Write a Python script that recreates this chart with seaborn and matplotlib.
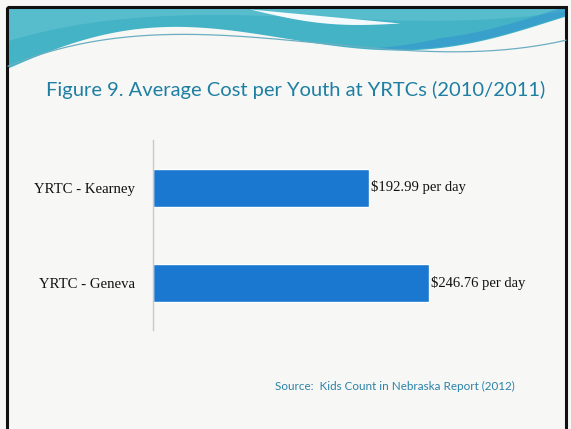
import matplotlib
matplotlib.use('Agg')
import numpy as np
import pandas as pd
import matplotlib.pyplot as plt
from matplotlib.patches import Rectangle
import seaborn as sns

# datos
centros = ['YRTC - Kearney', 'YRTC - Geneva']
costo_diario = [192.99, 246.76]
etiquetas = ['$192.99 per day', '$246.76 per day']
titulo = 'Figure 9. Average Cost per Youth at YRTCs (2010/2011)'
fuente = 'Source:  Kids Count in Nebraska Report (2012)'

df = pd.DataFrame({'centro': centros, 'costo': costo_diario})

sns.set_theme(style="white")
plt.rcParams['font.family'] = ['Liberation Serif', 'DejaVu Serif']

fondo = '#f7f7f5'
fig = plt.figure(figsize=(5.71, 4.29), dpi=100)
fig.patch.set_facecolor(fondo)

# --- decoracion superior (onda) ---
deco = fig.add_axes([0, 0, 1, 1])
deco.set_xlim(0, 571)
deco.set_ylim(429, 0)
deco.axis('off')
xs = np.linspace(8, 566, 400)
px = [8, 80, 150, 250, 380, 450, 566]
py = [68, 40, 28, 32, 50, 46, 16]
borde = np.polyval(np.polyfit(px, py, 5), xs)
deco.fill_between(xs, 8, borde, color='#45b3c6', lw=0)
# tonos superiores
sup = np.polyval(np.polyfit([8, 150, 300, 450, 566], [40, 18, 14, 22, 10], 3), xs)
deco.fill_between(xs, 8, sup, color='#5cc0cf', lw=0, alpha=0.8)
grosor = 9 * np.clip((xs - 370) / 70, 0, 1)
deco.fill_between(xs, borde - 1 - grosor, borde - 1, color='#2f92cf', lw=0, alpha=0.55)
# linea fina bajo la onda
linea = np.polyval(np.polyfit([8, 150, 300, 420, 566], [66, 36, 40, 52, 40], 3), xs)
deco.plot(xs, linea, color='#6aaec2', lw=0.9)
# franja blanca
xb = np.linspace(250, 400, 100)
t = (xb - 250) / 150
arriba = 9 + 14 * t
deco.fill_between(xb, arriba, arriba + 7 * np.sin(np.pi * t), color='white', lw=0, alpha=0.95)
deco.add_patch(Rectangle((7, 7), 559, 430, fill=False, ec='#111111', lw=2.2))

fig.text(0.517, 0.79, titulo, ha='center', va='center', fontsize=14.5,
         color='#1f7fa3', family=['Lato', 'DejaVu Sans'])
fig.text(0.482, 0.098, fuente, ha='left', va='center', fontsize=8.4,
         color='#2a82a8', family=['Lato', 'DejaVu Sans'])

# --- grafico de barras ---
ax = fig.add_axes([153 / 571, 1 - 330 / 429, (566 - 153) / 571, 190 / 429])
ax.patch.set_alpha(0)
sns.barplot(data=df, x='costo', y='centro', orient='h', color='#1a78d0',
            width=0.4, saturation=1, ax=ax)
ax.set_xlim(0, 369)
ax.set_ylim(1.5, -0.5)
ax.set_xlabel('')
ax.set_ylabel('')
ax.set_xticks([])
for lado in ['top', 'right', 'bottom']:
    ax.spines[lado].set_visible(False)
ax.spines['left'].set_color('#c8c8c8')
ax.spines['left'].set_linewidth(1)
ax.tick_params(axis='y', length=0, pad=13, labelsize=10.6, labelcolor='#111111')

for i, (v, txt) in enumerate(zip(costo_diario, etiquetas)):
    ax.text(v + 2, i, txt, va='center', ha='left', fontsize=10.5, color='#111111')

plt.savefig('out.png', dpi=100, facecolor=fondo)
plt.close()
